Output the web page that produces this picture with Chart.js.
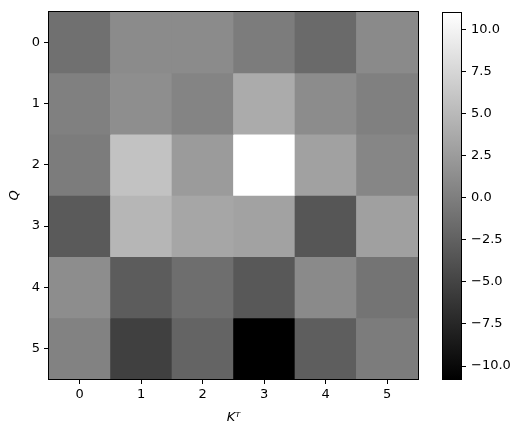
<!DOCTYPE html>
<html>
<head>
<meta charset="utf-8">
<script src="https://cdn.jsdelivr.net/npm/chart.js@4"></script>
<style>
	html, body { margin: 0; padding: 0; background: #fff; }
	#wrap { position: relative; width: 524px; height: 437px; }
	#heat { position: absolute; left: 0; top: 0; }
	#cbar { position: absolute; left: 430px; top: 0; }
</style>
</head>
<body>
<div id="wrap">
	<canvas id="heat" width="430" height="437"></canvas>
	<canvas id="cbar" width="94" height="437"></canvas>
</div>
<script>
'use strict';

// data (rows = Q, columns = K^T)
const xLabels = ['0', '1', '2', '3', '4', '5'];
const yLabels = ['0', '1', '2', '3', '4', '5'];

const row0 = [-1.21, 1.10, 1.10, -0.18, -1.72, 1.01];
const row1 = [0.16, 1.35, 0.50, 3.83, 1.18, 0.16];
const row2 = [-0.18, 5.79, 2.46, 11.0, 2.97, 0.67];
const row3 = [-3.09, 4.77, 3.40, 3.06, -3.43, 2.89];
const row4 = [1.27, -2.92, -1.38, -3.26, 1.01, -0.87];
const row5 = [0.33, -5.31, -2.23, -10.77, -2.75, -0.18];

const rows = [row0, row1, row2, row3, row4, row5];
const cbTicks = [-10, -7.5, -5, -2.5, 0, 2.5, 5, 7.5, 10];

const all = rows.flat();
const vmin = Math.min(...all);
const vmax = Math.max(...all);

const gray = v => {
	const g = Math.round((v - vmin) / (vmax - vmin) * 255);
	return `rgb(${g},${g},${g})`;
};

Chart.defaults.font.family = 'DejaVu Sans';
Chart.defaults.font.size = 13;
Chart.defaults.color = '#000';
Chart.defaults.animation = false;

// black box round the plot area
const frame = {
	id: 'frame',
	afterDatasetsDraw(chart) {
		const {ctx, chartArea: a} = chart;
		ctx.save();
		ctx.strokeStyle = '#000';
		ctx.lineWidth = 1;
		ctx.strokeRect(Math.round(a.left) - 0.5, Math.round(a.top) - 0.5, Math.round(a.right - a.left) + 1, Math.round(a.bottom - a.top) + 1);
		ctx.restore();
	}
};

const datasets = rows.map((row, r) => ({
	data: row.map(() => [r - 0.5, r + 0.5]),
	backgroundColor: row.map(gray),
	borderWidth: 0,
	barPercentage: 1,
	categoryPercentage: 1,
	grouped: false
}));

const heat = new Chart(document.querySelector('#heat'), {
	type: 'bar',
	data: { labels: xLabels, datasets: datasets },
	options: {
		responsive: false,
		devicePixelRatio: 1,
		layout: { padding: { top: 10, right: 12, left: 0, bottom: 0 } },
		plugins: { legend: { display: false }, tooltip: { enabled: false } },
		scales: {
			x: {
				offset: true,
				grid: { offset: false, drawOnChartArea: false, tickLength: 5, color: '#000' },
				border: { color: '#000' },
				ticks: { padding: 3, maxRotation: 0 },
				title: { display: true, text: 'Kᵀ', font: { style: 'italic' }, padding: { top: 0, bottom: 12 } },
				afterFit: s => { s.height = 58; }
			},
			y: {
				min: -0.5,
				max: 5.5,
				reverse: true,
				afterBuildTicks: s => { s.ticks = yLabels.map((l, i) => ({ value: i })); },
				grid: { drawOnChartArea: false, tickLength: 5, color: '#000' },
				border: { color: '#000' },
				ticks: { padding: 4, callback: (v, i) => yLabels[i] },
				title: { display: true, text: 'Q', font: { style: 'italic' }, padding: { top: 7, bottom: 0 } },
				afterFit: s => { s.width = 49; }
			}
		}
	},
	plugins: [frame]
});

// colorbar
const cbar = new Chart(document.querySelector('#cbar'), {
	type: 'bar',
	data: {
		labels: [''],
		datasets: [{
			data: [[vmin, vmax]],
			backgroundColor: ctx => {
				const chart = ctx.chart;
				const y = chart.scales.y;
				if (!chart.chartArea || !y) return '#888';
				const g = chart.ctx.createLinearGradient(0, y.getPixelForValue(vmin), 0, y.getPixelForValue(vmax));
				g.addColorStop(0, '#000');
				g.addColorStop(1, '#fff');
				return g;
			},
			borderWidth: 0,
			barPercentage: 1,
			categoryPercentage: 1
		}]
	},
	options: {
		responsive: false,
		devicePixelRatio: 1,
		layout: { padding: { top: 10, left: 13, right: 0, bottom: 58 } },
		plugins: { legend: { display: false }, tooltip: { enabled: false } },
		scales: {
			x: { display: false },
			y: {
				position: 'right',
				min: vmin,
				max: vmax,
				afterBuildTicks: s => { s.ticks = cbTicks.map(v => ({ value: v })); },
				grid: { drawOnChartArea: false, tickLength: 5, color: '#000' },
				border: { display: false },
				ticks: { padding: 5, callback: v => v.toFixed(1).replace('-', '\u2212') },
				afterFit: s => { s.width = 63; }
			}
		}
	},
	plugins: [frame]
});
</script>
</body>
</html>
